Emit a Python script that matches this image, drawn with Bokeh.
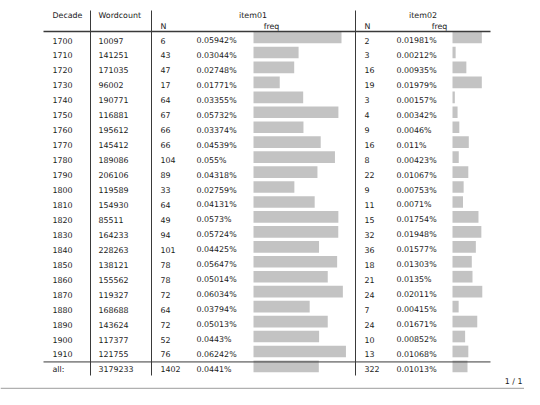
from bokeh.plotting import figure
from bokeh.models import Range1d, ColumnDataSource
from bokeh.core.properties import value
from bokeh.embed import file_html
from bokeh.resources import INLINE

# ---------------- data ----------------
decades = [1700, 1710, 1720, 1730, 1740, 1750, 1760, 1770, 1780, 1790, 1800,
           1810, 1820, 1830, 1840, 1850, 1860, 1870, 1880, 1890, 1900, 1910]
wordcount = [10097, 141251, 171035, 96002, 190771, 116881, 195612, 145412, 189086,
             206106, 119589, 154930, 85511, 164233, 228263, 138121, 155562, 119327,
             168688, 143624, 117377, 121755]
item01_n = [6, 43, 47, 17, 64, 67, 66, 66, 104, 89, 33, 64, 49, 94, 101, 78, 78,
            72, 64, 72, 52, 76]
item01_freq = [0.05942, 0.03044, 0.02748, 0.01771, 0.03355, 0.05732, 0.03374,
               0.04539, 0.055, 0.04318, 0.02759, 0.04131, 0.0573, 0.05724, 0.04425,
               0.05647, 0.05014, 0.06034, 0.03794, 0.05013, 0.0443, 0.06242]
item02_n = [2, 3, 16, 19, 3, 4, 9, 16, 8, 22, 9, 11, 15, 32, 36, 18, 21, 24, 7,
            24, 10, 13]
item02_freq = [0.01981, 0.00212, 0.00935, 0.01979, 0.00157, 0.00342, 0.0046,
               0.011, 0.00423, 0.01067, 0.00753, 0.0071, 0.01754, 0.01948, 0.01577,
               0.01303, 0.0135, 0.02011, 0.00415, 0.01671, 0.00852, 0.01068]
total_label = "all:"
total_wordcount = 3179233
total_item01_n = 1402
total_item01_freq = 0.0441
total_item02_n = 322
total_item02_freq = 0.01013
col_headers = ["Decade", "Wordcount"]
item_names = ["item01", "item02"]
sub_headers = ["N", "freq"]
page_label = "1 / 1"

# ---------------- layout ----------------
W, H = 524, 389
FONT = value("DejaVu Sans")
FS = "7.9px"
TXT = "#1a1a1a"
ROW_PX = 14.95          # row pitch in px
ROW0_Y = 40             # y of first row
PX_PER_PCT = 1481       # bar length per 1 %
BAR1_X0, BAR2_X0 = 253, 452


def row_of(py):
    return (py - ROW0_Y) / ROW_PX


p = figure(width=W, height=H, output_backend="svg", toolbar_location=None,
           x_range=Range1d(0, W), y_range=Range1d(row_of(H), row_of(0)),
           min_border=0, outline_line_color=None)
p.axis.visible = False
p.grid.visible = False
p.extra_x_ranges = {
    "f1": Range1d(-BAR1_X0 / PX_PER_PCT, (W - BAR1_X0) / PX_PER_PCT),
    "f2": Range1d(-BAR2_X0 / PX_PER_PCT, (W - BAR2_X0) / PX_PER_PCT),
}

n = len(decades)
rows = list(range(n)) + [n]
f1 = item01_freq + [total_item01_freq]
f2 = item02_freq + [total_item02_freq]

# bars
BAR_OFF, BAR_H = -0.2, 0.78
bars = ColumnDataSource(dict(y=[r + BAR_OFF for r in rows], f1=f1, f2=f2))
p.hbar(y="y", left=0, right="f1", height=BAR_H, source=bars, x_range_name="f1",
       fill_color="#c3c3c3", line_color=None)
p.hbar(y="y", left=0, right="f2", height=BAR_H, source=bars, x_range_name="f2",
       fill_color="#c3c3c3", line_color=None)

# body text
def fmt_pct(v):
    return f"{v:g}%"

body = ColumnDataSource(dict(
    y=rows,
    dec=[str(d) for d in decades] + [total_label],
    wc=[str(w) for w in wordcount] + [str(total_wordcount)],
    n1=[str(v) for v in item01_n] + [str(total_item01_n)],
    p1=[fmt_pct(v) for v in f1],
    n2=[str(v) for v in item02_n] + [str(total_item02_n)],
    p2=[fmt_pct(v) for v in f2],
))
for col, x in [("dec", 52), ("wc", 98), ("n1", 160), ("p1", 196), ("n2", 364), ("p2", 396)]:
    p.text(x=x, y="y", text=col, source=body, text_font=FONT, text_font_size=FS,
           text_color=TXT, text_baseline="middle", text_align="left")

# headers
hy1, hy2 = row_of(14.5), row_of(25.5)
p.text(x=[52, 98], y=[hy1, hy1], text=col_headers, text_font=FONT, text_font_size=FS,
       text_color=TXT, text_baseline="middle", text_align="left")
p.text(x=[252.5, 422.5], y=[hy1, hy1], text=item_names, text_font=FONT, text_font_size=FS,
       text_color=TXT, text_baseline="middle", text_align="center")
p.text(x=[160, 364], y=[hy2, hy2], text=[sub_headers[0]] * 2, text_font=FONT,
       text_font_size=FS, text_color=TXT, text_baseline="middle", text_align="left")
p.text(x=[271, 439], y=[hy2, hy2], text=[sub_headers[1]] * 2, text_font=FONT,
       text_font_size=FS, text_color=TXT, text_baseline="middle", text_align="center")

# rules
p.segment(x0=[43], x1=[490], y0=[row_of(31)], y1=[row_of(31)], line_color="#3a3a3a",
          line_width=1.3)
p.segment(x0=[43], x1=[490], y0=[n - 0.5], y1=[n - 0.5], line_color="#3a3a3a",
          line_width=1)
vx = [90, 151, 355]
p.segment(x0=vx, x1=vx, y0=[row_of(10)] * 3, y1=[row_of(375)] * 3,
          line_color="#3a3a3a", line_width=1)

# page footer
p.text(x=[522], y=[row_of(381)], text=[page_label], text_font=FONT, text_font_size=FS,
       text_color=TXT, text_baseline="middle", text_align="right")
p.segment(x0=[0], x1=[W], y0=[row_of(388)], y1=[row_of(388)],
          line_color="#b0b0b0", line_width=1.5)

open("out.html", "w").write(file_html(p, INLINE))
